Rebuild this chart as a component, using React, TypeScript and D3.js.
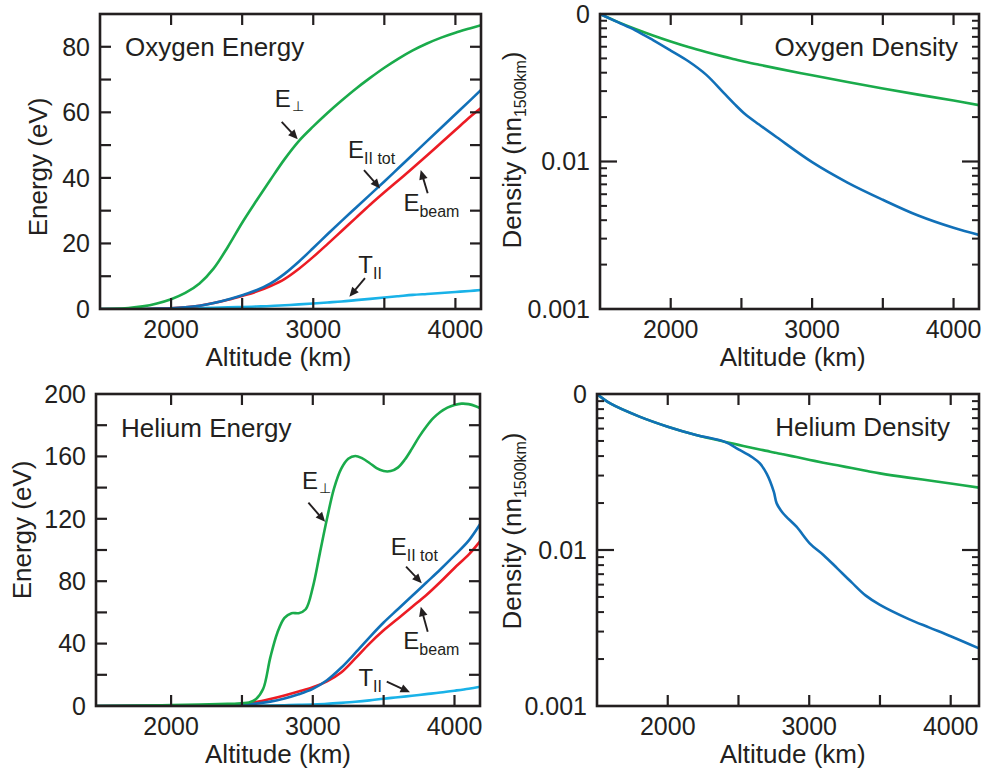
import React from 'react';
import * as d3 from 'd3';

const FONT = '"Liberation Sans", Arial, Helvetica, sans-serif';
const INK = '#231f20';
const GREEN = '#1aab4b';
const BLUE = '#1170b8';
const RED = '#ec1c24';
const CYAN = '#19b2e8';

// ---------- Oxygen energy (eV) ----------
const oxEnergyAlt = [1500, 1600, 1700, 1800, 1900, 2000, 2100, 2200, 2300, 2400, 2500, 2600, 2700, 2800, 2900, 3000, 3100, 3200, 3300, 3400, 3500, 3600, 3700, 3800, 3900, 4000, 4100, 4180];
const oxEPerp = [0, 0.05, 0.3, 0.8, 1.7, 3.0, 4.9, 7.8, 12.4, 19, 26.3, 33, 39.5, 45.8, 51.3, 55.7, 59.8, 63.6, 67.2, 70.5, 73.6, 76.4, 78.9, 81, 82.8, 84.3, 85.6, 86.6];
const oxETot = [0, 0, 0, 0, 0.1, 0.2, 0.5, 1.0, 1.8, 2.9, 4.2, 5.7, 7.8, 10.8, 14.5, 18.6, 22.8, 26.9, 30.9, 34.9, 38.9, 43, 47.1, 51.2, 55.3, 59.4, 63.5, 66.8];
const oxEBeam = [0, 0, 0, 0, 0.1, 0.2, 0.5, 1.0, 1.8, 2.8, 4.0, 5.3, 7.0, 9.2, 12.3, 15.9, 19.8, 23.8, 27.8, 31.8, 35.6, 39.3, 43.0, 46.8, 50.7, 54.6, 58.5, 61.3];
const oxTPar = [0, 0, 0, 0, 0.05, 0.1, 0.2, 0.3, 0.4, 0.5, 0.6, 0.75, 0.9, 1.15, 1.4, 1.7, 2.0, 2.3, 2.7, 3.1, 3.5, 3.9, 4.3, 4.6, 4.9, 5.2, 5.5, 5.8];

// ---------- Oxygen density (n/n1500km) ----------
const oxDensAlt = [1500, 1625, 1750, 1875, 2000, 2125, 2250, 2375, 2450, 2525, 2625, 2750, 3000, 3250, 3500, 3750, 4000, 4180];
const oxDensPerp = [0.1, 0.0885, 0.0792, 0.0716, 0.0652, 0.0598, 0.0553, 0.0514, 0.0494, 0.0475, 0.0453, 0.0428, 0.0384, 0.0346, 0.0313, 0.0284, 0.0259, 0.0241];
const oxDensTot = [0.1, 0.088, 0.0775, 0.0665, 0.0565, 0.0478, 0.0388, 0.0292, 0.0246, 0.021, 0.0178, 0.0146, 0.0099, 0.0072, 0.0055, 0.0043, 0.00355, 0.00318];

// ---------- Helium energy (eV) ----------
const hePerpAlt = [1470, 1800, 2000, 2200, 2400, 2500, 2550, 2600, 2650, 2700, 2750, 2800, 2850, 2900, 2950, 3000, 3050, 3100, 3150, 3200, 3250, 3300, 3350, 3400, 3450, 3500, 3550, 3600, 3650, 3700, 3750, 3800, 3850, 3900, 3950, 4000, 4050, 4100, 4150, 4180];
const heEPerp = [0, 0.3, 0.6, 0.9, 1.4, 1.8, 2.3, 4.5, 11, 31, 47, 56.5, 59.5, 59.5, 62, 76, 98, 120, 139.5, 152, 158.5, 160.3, 158.7, 155.8, 152.5, 150.6, 150.6, 152.8, 158, 165, 172.5, 179, 184.5, 188.5, 191.3, 193, 193.8, 193.5, 192.2, 191];
const heParAlt = [1470, 2000, 2400, 2500, 2600, 2700, 2800, 2900, 3000, 3100, 3200, 3300, 3400, 3500, 3600, 3700, 3800, 3900, 4000, 4100, 4180];
const heETot = [0, 0.2, 0.5, 0.8, 1.5, 2.8, 4.8, 7.5, 11, 16.5, 24.5, 34, 44, 53.5, 62, 70.5, 79, 87.5, 96.5, 106, 116.5];
const heEBeam = [0, 0.3, 0.7, 1.2, 2.5, 4.5, 6.8, 9.3, 12, 15.8, 21.5, 30.5, 40, 48.5, 56, 63.5, 71, 79.5, 88.5, 97, 105.5];
const heTPar = [0, 0, 0.05, 0.1, 0.15, 0.3, 0.5, 0.7, 1.0, 1.4, 2.0, 2.7, 3.6, 4.7, 5.6, 6.6, 7.6, 8.6, 9.8, 11.1, 12.4];

// ---------- Helium density (n/n1500km) ----------
const heDensAlt = [1500, 1600, 1800, 2000, 2200, 2400, 2500, 2600, 2650, 2700, 2750, 2770, 2815, 2910, 3005, 3100, 3200, 3300, 3400, 3500, 3700, 3850, 4000, 4200];
const heDensPerp = [0.1, 0.0863, 0.0716, 0.0617, 0.0546, 0.0495, 0.0472, 0.0451, 0.0441, 0.0432, 0.0422, 0.0419, 0.0411, 0.0394, 0.0378, 0.0363, 0.0349, 0.0335, 0.0322, 0.031, 0.0291, 0.0279, 0.0267, 0.0251];
const heDensTot = [0.1, 0.0863, 0.0716, 0.0617, 0.0546, 0.0495, 0.0442, 0.0392, 0.036, 0.0308, 0.0236, 0.0199, 0.0172, 0.0141, 0.011, 0.0093, 0.0076, 0.0062, 0.0051, 0.00445, 0.00362, 0.00318, 0.0028, 0.00234];

// ---------- Axis ticks ----------
const altTicks = [2000, 2500, 3000, 3500, 4000];
const altLabels = [2000, 3000, 4000];
const oxEnergyTicks = [10, 20, 30, 40, 50, 60, 70, 80];
const oxEnergyLabels = [0, 20, 40, 60, 80];
const heEnergyTicks = [20, 40, 60, 80, 100, 120, 140, 160, 180];
const heEnergyLabels = [0, 40, 80, 120, 160, 200];
const densLabels = [
  { v: 0.1, t: '0' },
  { v: 0.01, t: '0.01' },
  { v: 0.001, t: '0.001' },
];

// ---------- Annotations (data coordinates) ----------
const oxAnnots = [
  { main: 'E', sub: '\u22A5', lx: 2730, ly: 61.6, ax1: 2778, ay1: 57.1, ax2: 2891, ay2: 51.8 },
  { main: 'E', sub: 'II tot', lx: 3245, ly: 46.1, ax1: 3357, ay1: 42.4, ax2: 3470, ay2: 36.8 },
  { main: 'E', sub: 'beam', lx: 3634, ly: 30, ax1: 3805, ay1: 35.3, ax2: 3756, ay2: 42.4 },
  { main: 'T', sub: 'II', lx: 3317, ly: 11.1, ax1: 3364, ay1: 9.4, ax2: 3254, ay2: 3.75 },
];
const heAnnots = [
  { main: 'E', sub: '\u22A5', lx: 2923, ly: 138.9, ax1: 2969, ay1: 130.3, ax2: 3087, ay2: 118.1 },
  { main: 'E', sub: 'II tot', lx: 3550, ly: 96.8, ax1: 3658, ay1: 89.3, ax2: 3769, ay2: 78.7 },
  { main: 'E', sub: 'beam', lx: 3639, ly: 36.3, ax1: 3811, ay1: 47.6, ax2: 3762, ay2: 63.7 },
  { main: 'T', sub: 'II', lx: 3322, ly: 12.8, ax1: 3522, ay1: 15.6, ax2: 3686, ay2: 8.8 },
];

type Series = { alt: number[]; val: number[]; color: string };

function Arrow({ x1, y1, x2, y2 }: { x1: number; y1: number; x2: number; y2: number }) {
  const ang = Math.atan2(y2 - y1, x2 - x1);
  const L = 9.5;
  const W = 4.3;
  const bx = x2 - L * Math.cos(ang);
  const by = y2 - L * Math.sin(ang);
  const px = -Math.sin(ang) * W;
  const py = Math.cos(ang) * W;
  return (
    <g>
      <line x1={x1} y1={y1} x2={bx + 0.5 * Math.cos(ang)} y2={by + 0.5 * Math.sin(ang)} stroke={INK} strokeWidth={1.9} />
      <polygon points={`${x2},${y2} ${bx + px},${by + py} ${bx - px},${by - py}`} fill={INK} />
    </g>
  );
}

function Frame({ l, r, t, b }: { l: number; r: number; t: number; b: number }) {
  return <rect x={l} y={t} width={r - l} height={b - t} fill="none" stroke={INK} strokeWidth={2.6} />;
}

const curve = d3.curveCatmullRom.alpha(0.5);

function EnergyPanel(props: {
  l: number; r: number; t: number; b: number;
  xDomain: [number, number]; yMax: number;
  yTicks: number[]; yLabels: number[];
  series: Series[]; annots: typeof oxAnnots;
  title: string; titleY: number;
  yTitleX: number; yTitleY: number; xTitleX: number;
}) {
  const { l, r, t, b } = props;
  const x = d3.scaleLinear().domain(props.xDomain).range([l, r]);
  const y = d3.scaleLinear().domain([0, props.yMax]).range([b, t]);
  const line = d3.line<[number, number]>().x((d) => x(d[0])).y((d) => y(d[1])).curve(curve);
  const tl = 11;
  const id = `clip-${props.title.replace(/\s/g, '')}`;
  return (
    <g>
      <defs>
        <clipPath id={id}>
          <rect x={l} y={t - 2} width={r - l} height={b - t + 2} />
        </clipPath>
      </defs>
      <g clipPath={`url(#${id})`}>
        {props.series.map((s, i) => (
          <path key={i} d={line(s.alt.map((a, j) => [a, s.val[j]] as [number, number])) || ''} fill="none" stroke={s.color} strokeWidth={2.6} strokeLinejoin="round" />
        ))}
      </g>
      {altTicks.map((v) => (
        <g key={'xt' + v}>
          <line x1={x(v)} x2={x(v)} y1={b} y2={b - tl} stroke={INK} strokeWidth={2.2} />
          <line x1={x(v)} x2={x(v)} y1={t} y2={t + tl} stroke={INK} strokeWidth={2.2} />
        </g>
      ))}
      {props.yTicks.map((v) => (
        <g key={'yt' + v}>
          <line x1={l} x2={l + tl} y1={y(v)} y2={y(v)} stroke={INK} strokeWidth={2.2} />
          <line x1={r} x2={r - tl} y1={y(v)} y2={y(v)} stroke={INK} strokeWidth={2.2} />
        </g>
      ))}
      <Frame l={l} r={r} t={t} b={b} />
      {altLabels.map((v) => (
        <text key={'xl' + v} x={x(v)} y={b + 28.5} textAnchor="middle" fontSize={25} fill={INK}>{v}</text>
      ))}
      {props.yLabels.map((v) => (
        <text key={'yl' + v} x={l - 10} y={y(v)} dy="0.355em" textAnchor="end" fontSize={25} fill={INK}>{v}</text>
      ))}
      <text x={props.xTitleX} y={b + 56.5} textAnchor="middle" fontSize={26} fill={INK}>Altitude (km)</text>
      <text transform={`translate(${props.yTitleX},${props.yTitleY}) rotate(-90)`} textAnchor="middle" fontSize={26} fill={INK}>Energy (eV)</text>
      <text x={l + 25} y={props.titleY} fontSize={26} fill={INK}>{props.title}</text>
      {props.annots.map((a, i) => (
        <g key={'an' + i}>
          <text x={x(a.lx)} y={y(a.ly)} fontSize={24} fill={INK}>
            {a.main}
            {a.sub === '\u22A5' ? (
              <tspan fontSize={14} dy={4} fontFamily='"DejaVu Sans", sans-serif' dx={1}>{a.sub}</tspan>
            ) : (
              <tspan fontSize={16} dy={6}>{a.sub}</tspan>
            )}
          </text>
          <Arrow x1={x(a.ax1)} y1={y(a.ay1)} x2={x(a.ax2)} y2={y(a.ay2)} />
        </g>
      ))}
    </g>
  );
}

function DensityPanel(props: {
  l: number; r: number; t: number; b: number;
  xDomain: [number, number];
  series: Series[];
  title: string; titleX: number; titleY: number;
  yTitleX: number; yTitleY: number; xTitleX: number;
}) {
  const { l, r, t, b } = props;
  const x = d3.scaleLinear().domain(props.xDomain).range([l, r]);
  const y = d3.scaleLog().domain([0.001, 0.1]).range([b, t]);
  const line = d3.line<[number, number]>().x((d) => x(d[0])).y((d) => y(d[1])).curve(curve);
  const minor: number[] = [];
  [0.001, 0.01].forEach((dec) => {
    for (let k = 2; k <= 9; k++) minor.push(k * dec);
  });
  const id = `clip-${props.title.replace(/\s/g, '')}`;
  return (
    <g>
      <defs>
        <clipPath id={id}>
          <rect x={l} y={t - 2} width={r - l} height={b - t + 2} />
        </clipPath>
      </defs>
      <g clipPath={`url(#${id})`}>
        {props.series.map((s, i) => (
          <path key={i} d={line(s.alt.map((a, j) => [a, s.val[j]] as [number, number])) || ''} fill="none" stroke={s.color} strokeWidth={2.6} strokeLinejoin="round" />
        ))}
      </g>
      {altTicks.map((v) => (
        <g key={'xt' + v}>
          <line x1={x(v)} x2={x(v)} y1={b} y2={b - 11} stroke={INK} strokeWidth={2.2} />
          <line x1={x(v)} x2={x(v)} y1={t} y2={t + 11} stroke={INK} strokeWidth={2.2} />
        </g>
      ))}
      {minor.map((v) => (
        <g key={'mt' + v}>
          <line x1={l} x2={l + 7} y1={y(v)} y2={y(v)} stroke={INK} strokeWidth={2} />
          <line x1={r} x2={r - 7} y1={y(v)} y2={y(v)} stroke={INK} strokeWidth={2} />
        </g>
      ))}
      <line x1={l} x2={l + 17} y1={y(0.01)} y2={y(0.01)} stroke={INK} strokeWidth={2.2} />
      <line x1={r} x2={r - 17} y1={y(0.01)} y2={y(0.01)} stroke={INK} strokeWidth={2.2} />
      <Frame l={l} r={r} t={t} b={b} />
      {altLabels.map((v) => (
        <text key={'xl' + v} x={x(v)} y={b + 28.5} textAnchor="middle" fontSize={25} fill={INK}>{v}</text>
      ))}
      {densLabels.map((d) => (
        <text key={'yl' + d.t} x={l - 10} y={y(d.v)} dy="0.355em" textAnchor="end" fontSize={25} fill={INK}>{d.t}</text>
      ))}
      <text x={props.xTitleX} y={b + 56.5} textAnchor="middle" fontSize={26} fill={INK}>Altitude (km)</text>
      <text transform={`translate(${props.yTitleX},${props.yTitleY}) rotate(-90)`} textAnchor="middle" fontSize={26} fill={INK}>
        Density (nn<tspan fontSize={16} dy={5}>1500km</tspan><tspan dy={-5}>)</tspan>
      </text>
      <text x={props.titleX} y={props.titleY} textAnchor="end" fontSize={26} fill={INK}>{props.title}</text>
    </g>
  );
}

export default function App() {
  return (
    <svg width={987} height={772} style={{ position: 'absolute', left: 0, top: 0, background: '#fff' }} fontFamily={FONT}>
      <rect x={0} y={0} width={987} height={772} fill="#fff" />
      <EnergyPanel
        l={100} r={481} t={14} b={309}
        xDomain={[1500, 4180]} yMax={90}
        yTicks={oxEnergyTicks} yLabels={oxEnergyLabels}
        series={[
          { alt: oxEnergyAlt, val: oxTPar, color: CYAN },
          { alt: oxEnergyAlt, val: oxEBeam, color: RED },
          { alt: oxEnergyAlt, val: oxETot, color: BLUE },
          { alt: oxEnergyAlt, val: oxEPerp, color: GREEN },
        ]}
        annots={oxAnnots}
        title="Oxygen Energy" titleY={56}
        yTitleX={47} yTitleY={167} xTitleX={278.5}
      />
      <DensityPanel
        l={600} r={979} t={14} b={309}
        xDomain={[1500, 4180]}
        series={[
          { alt: oxDensAlt, val: oxDensPerp, color: GREEN },
          { alt: oxDensAlt, val: oxDensTot, color: BLUE },
        ]}
        title="Oxygen Density" titleX={958} titleY={56}
        yTitleX={521} yTitleY={150} xTitleX={792.7}
      />
      <EnergyPanel
        l={96} r={480} t={394} b={706}
        xDomain={[1470, 4180]} yMax={200}
        yTicks={heEnergyTicks} yLabels={heEnergyLabels}
        series={[
          { alt: heParAlt, val: heTPar, color: CYAN },
          { alt: heParAlt, val: heEBeam, color: RED },
          { alt: heParAlt, val: heETot, color: BLUE },
          { alt: hePerpAlt, val: heEPerp, color: GREEN },
        ]}
        annots={heAnnots}
        title="Helium Energy" titleY={436.5}
        yTitleX={31} yTitleY={530} xTitleX={278}
      />
      <DensityPanel
        l={597} r={979} t={394} b={706}
        xDomain={[1500, 4200]}
        series={[
          { alt: heDensAlt, val: heDensPerp, color: GREEN },
          { alt: heDensAlt, val: heDensTot, color: BLUE },
        ]}
        title="Helium Density" titleX={950} titleY={436}
        yTitleX={521} yTitleY={531} xTitleX={792.7}
      />
    </svg>
  );
}
